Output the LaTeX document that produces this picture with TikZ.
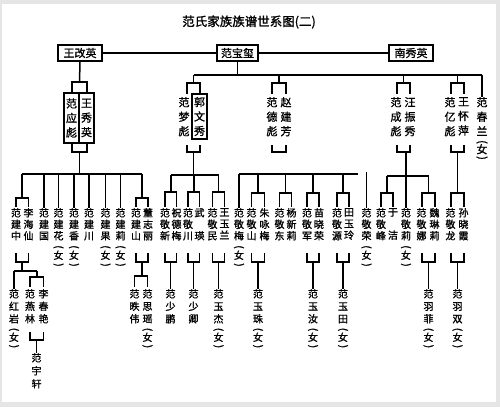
\documentclass[tikz,border=0pt]{standalone}
\usepackage{fontspec}
\usepackage{graphicx}
\newfontfamily\cjk[FakeBold=1.2]{Noto Sans CJK SC}
\newcommand\pL{\rotatebox[origin=c]{-90}{(}}
\newcommand\pR{\rotatebox[origin=c]{-90}{)}}
\newcommand\fem[3]{\\[#1]\pL\\[#2]女\\[#3]\pR}
\newcommand\femA{\fem{-4.5pt}{-6.5pt}{-6.5pt}}
\newcommand\femB{\fem{-1pt}{-2.5pt}{-2.5pt}}
\newcommand\femC{\fem{-2.5pt}{-4pt}{-4pt}}
\newcommand\brk[4]{\draw[ln] (#1,#4) |- (#2,#3) -- (#2,#4);}
\tikzset{
  ln/.style={line width=1.5pt},
  tb/.style={draw, line width=1.8pt, font=\cjk\fontsize{11}{13}\selectfont, minimum height=16pt, inner sep=0pt},
  pb/.style={draw, line width=1.5pt, font=\cjk\fontsize{11}{14.5}\selectfont, align=center, minimum width=15pt, inner sep=0pt},
  nA/.style={font=\cjk\fontsize{11}{14.5}\selectfont, align=center, inner sep=0pt, anchor=north},
  nB/.style={font=\cjk\fontsize{10}{11.5}\selectfont, align=center, inner sep=0pt, anchor=north},
  nC/.style={font=\cjk\fontsize{10}{12.5}\selectfont, align=center, inner sep=0pt, anchor=north},
  nD/.style={font=\cjk\fontsize{10}{13}\selectfont, align=center, inner sep=0pt, anchor=north},
}
\begin{document}
\begin{tikzpicture}[x=1pt,y=-1pt]
\useasboundingbox (0,0) rectangle (500,407);
\fill[black!10] (0,0) rectangle (500,407);
\fill[white] (2,4) rectangle (496,402);

% title
\node[font=\cjk\fontsize{12.5}{14}\selectfont] (title) at (249,22) {范氏家族族谱世系图(二)};

% top generation
\node[tb, minimum width=44pt] (wgy) at (80,53) {王改英};
\node[tb, minimum width=41pt] (fbx) at (237.5,53) {范宝玺};
\node[tb, minimum width=44pt] (nxy) at (411,53) {南秀英};
\draw[ln] (wgy) -- (fbx);
\draw[ln] (fbx) -- (nxy);

% second generation
\node[pb, minimum height=50pt] (yb) at (71.5,118) {范\\应\\彪};
\node[pb, minimum height=50pt] (wxy) at (86.5,118) {王\\秀\\英};
\node[nA] (mb) at (184,97) {范\\梦\\彪};
\node[pb, minimum height=45pt] (gwx) at (199.5,116.5) {郭\\文\\秀};
\node[nA] (db) at (272,97) {范\\德\\彪};
\node[nA] (zjf) at (286,97) {赵\\建\\芳};
\node[nA] (cb) at (396,97) {范\\成\\彪};
\node[nA] (wzx) at (410,97) {汪\\振\\秀};
\node[nA] (ib) at (450,97) {范\\亿\\彪};
\node[nA] (whp) at (463.5,97) {王\\怀\\萍};
\node[nA] (fcl) at (482,97) {范\\春\\兰\femA};

\coordinate (tb0) at (193.5,75);
\coordinate (tb1) at (482,75);
\draw[ln] (wgy.south) -- (79.5,82);
\brk{72}{87}{82}{93}
\draw[ln] (fbx.south) -- (237.5,75);
\draw[ln] (tb0) -- (tb1);
\draw[ln] (193.5,75) -- (193.5,83); \brk{187}{200}{83}{94}
\draw[ln] (279,75) -- (279,83); \brk{272}{286}{83}{94}
\draw[ln] (403.5,75) -- (403.5,83); \brk{397}{410}{83}{94}
\draw[ln] (457.5,75) -- (457.5,83); \brk{451}{464}{83}{94}
\draw[ln] (tb1) -- (fcl.north);

% third generation: left family
\brk{72}{87}{152}{143}
\draw[ln] (79.5,152) -- (79.5,174);
\draw[ln] (22,174) -- (142,174);
\draw[ln] (22,174) -- (22,198); \brk{16}{28.5}{198}{207}
\node[nB] (jz) at (16,208) {范\\建\\中};
\node[nB] (hx) at (28.5,208) {李\\海\\仙};
\node[nB] (jg) at (44,208) {范\\建\\国};
\node[nB] (jh) at (58.5,208) {范\\建\\花\femB};
\node[nB] (jx) at (74,208) {范\\建\\香\femB};
\node[nB] (jc) at (89,208) {范\\建\\川};
\node[nB] (jgu) at (105.5,208) {范\\建\\果\femB};
\node[nB] (jl) at (120.5,208) {范\\建\\莉\femB};
\node[nB] (js) at (136,208) {范\\建\\山};
\node[nB] (zl) at (148,208) {董\\志\\丽};
\draw[ln] (44,174) -- (jg.north);
\draw[ln] (58.5,174) -- (jh.north);
\draw[ln] (74,174) -- (jx.north);
\draw[ln] (89,174) -- (jc.north);
\draw[ln] (105.5,174) -- (jgu.north);
\draw[ln] (120.5,174) -- (jl.north);
\draw[ln] (142,174) -- (142,198); \brk{136}{148}{198}{207}

% fourth generation: left family
\brk{16}{28.5}{262}{253}
\draw[ln] (22,262) -- (22,271);
\draw[ln] (14,271) -- (37,271);
\node[nC] (hy) at (14,289) {范\\红\\岩\femC};
\draw[ln] (14,271) -- (hy.north);
\draw[ln] (37,271) -- (37,277); \brk{30}{43.5}{277}{287}
\node[nC] (yl) at (30,289) {范\\燕\\林};
\node[nC] (cy) at (43.5,289) {李\\春\\艳};
\brk{30}{43.5}{340}{332}
\node[nD] (yxu) at (36.5,353) {范\\宇\\轩};
\draw[ln] (36.5,340) -- (yxu.north);

\brk{136}{148}{262}{253}
\draw[ln] (142,262) -- (142,276); \brk{134.5}{147.5}{276}{287}
\node[nC] (yw) at (134.5,289) {范\\昳\\伟};
\node[nC] (sy) at (147.5,289) {范\\思\\瑶\femC};

% third generation: middle family (fan meng biao)
\brk{187}{200}{152}{145}
\draw[ln] (193.5,152) -- (193.5,175);
\draw[ln] (171,175) -- (218.5,175);
\draw[ln] (171,175) -- (171,192); \brk{165}{176.5}{192}{207}
\draw[ln] (194,175) -- (194,192); \brk{188}{199.5}{192}{207}
\draw[ln] (218.5,175) -- (218.5,192); \brk{212.5}{224.5}{192}{207}
\node[nB] (jxin) at (165,208) {范\\敬\\新};
\node[nB] (zdm) at (176.5,208) {祝\\德\\梅};
\node[nB] (jch) at (188,208) {范\\敬\\川};
\node[nB] (wy) at (199.5,208) {武\\[11.5pt]瑛};
\node[nB] (jmin) at (212.5,208) {范\\敬\\民};
\node[nB] (wyl) at (224.5,208) {王\\玉\\兰};
\brk{165}{176.5}{262}{253}
\brk{188}{199.5}{262}{253}
\brk{212.5}{224.5}{262}{253}
\node[nC] (sp) at (170.5,289) {范\\少\\鹏};
\node[nC] (sq) at (193.5,289) {范\\少\\卿};
\node[nC] (yj) at (218.5,289) {范\\玉\\杰\femC};
\draw[ln] (170.5,262) -- (sp.north);
\draw[ln] (193.5,262) -- (sq.north);
\draw[ln] (218.5,262) -- (yj.north);

% third generation: fan de biao
\brk{272}{286}{152}{145}
\draw[ln] (239,174) -- (358,174);
\node[nB] (jmei) at (239,208) {范\\敬\\梅\femB};
\draw[ln] (239,174) -- (jmei.north);
\draw[ln] (258,174) -- (258,193); \brk{251.5}{264.5}{193}{207}
\draw[ln] (285.5,174) -- (285.5,193); \brk{279.5}{291.5}{193}{207}
\draw[ln] (313,174) -- (313,193); \brk{307}{319}{193}{207}
\draw[ln] (343,174) -- (343,193); \brk{337}{349}{193}{207}
\node[nB] (jsh) at (251.5,208) {范\\敬\\山};
\node[nB] (zym) at (264.5,208) {朱\\咏\\梅};
\node[nB] (jd) at (279.5,208) {范\\敬\\东};
\node[nB] (yxl) at (291.5,208) {杨\\新\\莉};
\node[nB] (jj) at (307,208) {范\\敬\\军};
\node[nB] (mxr) at (319,208) {苗\\晓\\荣};
\node[nB] (jy) at (337,208) {范\\敬\\源};
\node[nB] (tyl) at (349,208) {田\\玉\\玲};
\node[nB] (jr) at (366.5,208) {范\\敬\\荣\femB};
\coordinate (jrtop) at (366.5,172);
\draw[ln] (jrtop) -- (jr.north);
\brk{251.5}{264.5}{262}{253}
\brk{307}{319}{262}{253}
\brk{337}{349}{262}{253}
\node[nC] (yzh) at (258,289) {范\\玉\\珠\femC};
\node[nC] (yr) at (313,289) {范\\玉\\汝\femC};
\node[nC] (yt) at (343,289) {范\\玉\\田\femC};
\draw[ln] (258,262) -- (yzh.north);
\draw[ln] (313,262) -- (yr.north);
\draw[ln] (343,262) -- (yt.north);

% third generation: fan cheng biao
\brk{397}{410}{152}{145}
\node[nB] (jli) at (406,208) {范\\敬\\莉\femB};
\draw[ln] (406,152) -- (jli.north);
\draw[ln] (387,176) -- (429,176);
\draw[ln] (387,176) -- (387,193); \brk{381}{393}{193}{207}
\draw[ln] (428.5,176) -- (428.5,193); \brk{422}{435}{193}{207}
\node[nB] (jf) at (381,208) {范\\敬\\峰};
\node[nB] (yjie) at (393,208) {于\\[11.5pt]洁};
\node[nB] (jn) at (421.5,208) {范\\敬\\娜};
\node[nB] (wll) at (434.5,208) {魏\\琳\\莉};
\brk{422}{435}{262}{253}
\node[nC] (yf) at (428.5,289) {范\\羽\\菲\femC};
\draw[ln] (428.5,262) -- (yf.north);

% third generation: fan yi biao
\brk{451}{464}{152}{145}
\draw[ln] (457.5,152) -- (457.5,193); \brk{451}{464}{193}{207}
\node[nB] (jlong) at (450.5,208) {范\\敬\\龙};
\node[nB] (sxx) at (463.5,208) {孙\\晓\\霞};
\brk{451}{464}{262}{253}
\node[nC] (ys) at (457.5,289) {范\\羽\\双\femC};
\draw[ln] (457.5,262) -- (ys.north);
\end{tikzpicture}
\end{document}
